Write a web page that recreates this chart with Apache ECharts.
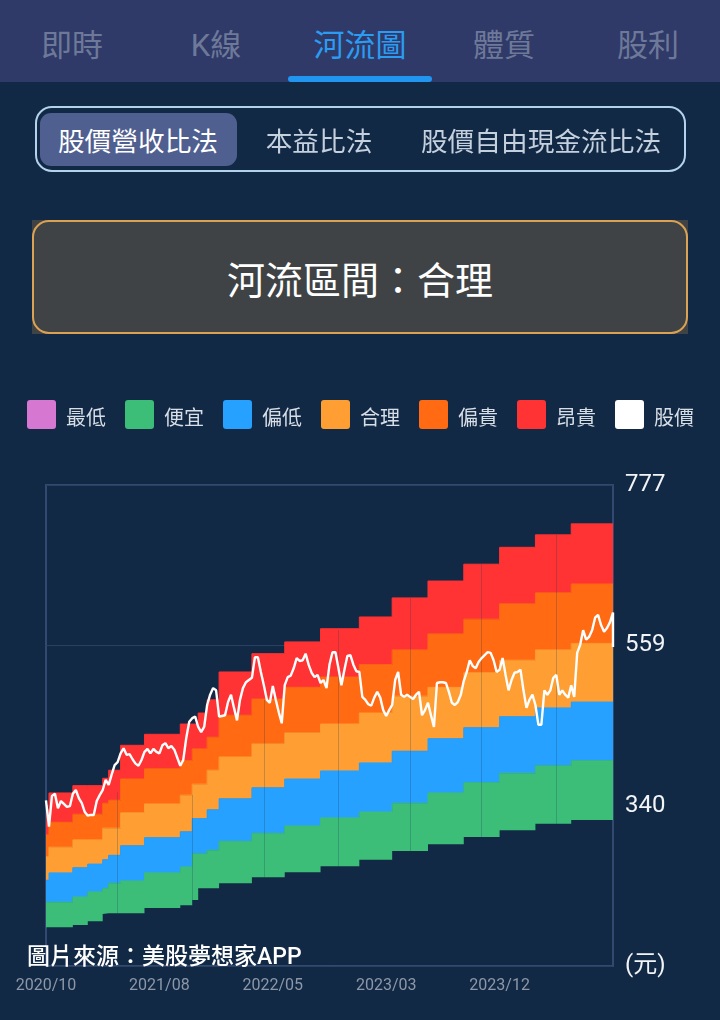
<!DOCTYPE html>
<html>
<head>
<meta charset="utf-8">
<title>河流圖</title>
<script src="https://cdn.jsdelivr.net/npm/echarts@6/dist/echarts.min.js"></script>
<style>
    html, body { margin: 0; padding: 0; background: #122945; }
    body { width: 720px; height: 1020px; position: relative; overflow: hidden; font-family: Roboto, "Noto Sans CJK TC", sans-serif; }
    #chart { position: absolute; left: 0; top: 0; width: 720px; height: 1020px; }
    .box { position: absolute; box-sizing: border-box; }
    .label { position: absolute; transform: translate(-50%, -50%); white-space: nowrap; }
    #tabBar { left: 0; top: 0; width: 720px; height: 82px; background: #2f3a68; }
    #tabLine { left: 288px; top: 76px; width: 144px; height: 6px; border-radius: 3px; background: #2196f0; }
    .tab { font-size: 31px; top: 42px; color: #6e7999; }
    #selector { left: 35px; top: 106px; width: 651px; height: 66px; border: 2px solid #b3d2ee; border-radius: 17px; }
    #pill { left: 40px; top: 113px; width: 197px; height: 53px; border-radius: 11px; background: #4f5f90; }
    .method { font-size: 26.7px; top: 139px; color: #c5d0de; }
    #status { left: 32px; top: 220px; width: 656px; height: 114px; background: #404345; }
    #statusLine { left: 32px; top: 220px; width: 656px; height: 114px; border: 2px solid #dca254; border-radius: 17px; }
    #statusText { left: 360px; top: 277px; font-size: 38px; color: #fff; }
</style>
</head>
<body>
<div id="chart"></div>
<div class="box" id="tabBar"></div>
<div class="box" id="tabLine"></div>
<div class="label tab" style="left:72px">即時</div>
<div class="label tab" style="left:216px">K線</div>
<div class="label tab" style="left:360px;color:#2b9cf2">河流圖</div>
<div class="label tab" style="left:504px">體質</div>
<div class="label tab" style="left:648px">股利</div>
<div class="box" id="selector"></div>
<div class="box" id="pill"></div>
<div class="label method" style="left:138px;color:#fff">股價營收比法</div>
<div class="label method" style="left:319px">本益比法</div>
<div class="label method" style="left:541px">股價自由現金流比法</div>
<div class="box" id="status"></div>
<div class="box" id="statusLine"></div>
<div class="label" id="statusText">河流區間：合理</div>
<script>
// 橫軸刻度與縱軸刻度
const xTickLabels = ['2020/10', '2021/08', '2022/05', '2023/03', '2023/12'];
const yTickLabels = ['(元)', '340', '559', '777'];
const yMin = 121;
const yMax = 777;
const weekCount = 191;
const labelEvery = 38;

// 河流區間換階的週次
const bandWeeks = [0, 1, 9, 14, 19, 21, 25, 33, 45, 49, 51, 54, 58, 69, 80, 92, 105, 116, 128, 140, 152, 164, 176, 190];

// 各區間的上下緣（元）
const redTop = [334, 357, 367, 367, 377, 388, 422, 437, 451, 451, 466, 484, 522, 547, 563, 581, 597, 623, 646, 669, 692, 709, 724, 724];
const orangeTop = [300, 317, 328, 328, 343, 347, 376, 390, 401, 417, 417, 433, 463, 485, 501, 515, 532, 552, 574, 594, 615, 630, 642, 642];
const amberTop = [270, 283, 293, 293, 309, 309, 330, 342, 354, 369, 369, 388, 406, 424, 439, 451, 466, 489, 501, 521, 538, 552, 561, 561];
const blueTop = [238, 248, 255, 260, 266, 272, 285, 296, 304, 322, 322, 334, 349, 364, 376, 387, 398, 414, 431, 446, 461, 473, 481, 481];
const greenTop = [208, 208, 215, 222, 227, 234, 237, 248, 256, 274, 274, 279, 291, 302, 312, 323, 331, 343, 357, 371, 384, 394, 401, 401];
const greenBottom = [174, 174, 177, 182, 192, 193, 193, 200, 204, 211, 227, 227, 234, 242, 249, 257, 266, 278, 287, 297, 306, 315, 320, 320];

// 股價（每週一點，最後兩點同一週）
const price = [
    347, 311, 353, 356, 336, 346, 342, 338, 339, 356,
    361, 350, 343, 331, 326, 327, 327, 346, 354, 361,
    375, 368, 382, 395, 399, 411, 418, 409, 410, 403,
    397, 394, 402, 413, 417, 411, 417, 413, 411, 422,
    425, 418, 421, 416, 405, 394, 402, 432, 454, 459,
    461, 447, 440, 447, 477, 491, 500, 497, 461, 462,
    463, 481, 491, 473, 456, 484, 500, 508, 511, 514,
    542, 542, 522, 504, 484, 480, 503, 484, 467, 452,
    504, 515, 517, 527, 541, 537, 538, 547, 532, 521,
    515, 518, 507, 511, 500, 532, 549, 549, 527, 504,
    525, 544, 545, 532, 523, 522, 488, 484, 478, 476,
    487, 495, 487, 470, 462, 470, 477, 511, 522, 491,
    488, 491, 488, 485, 491, 495, 463, 470, 480, 463,
    447, 507, 508, 508, 507, 495, 480, 477, 481, 491,
    510, 522, 538, 530, 527, 536, 541, 545, 549, 548,
    538, 522, 525, 541, 518, 497, 511, 521, 522, 525,
    497, 473, 484, 491, 477, 450, 450, 497, 491, 497,
    514, 518, 491, 497, 491, 487, 504, 488, 548, 559,
    579, 566, 570, 579, 596, 600, 586, 577, 582, 590,
    603, 556
];

// 河流區塊之間的細分隔線
const dividerWeeks = [24, 49, 73, 98, 122, 146, 171];
const dividerTop = [358, 354, 484, 579, 623, 669, 709];
const dividerBottom = [193, 204, 242, 257, 278, 297, 315];

window.addEventListener('DOMContentLoaded', function() {
    initRiverChart();
});

// 由上下緣換算成堆疊用的厚度
function bandData(upper, lower) {
    return bandWeeks.map((week, i) => [week, lower ? upper[i] - lower[i] : upper[i]]);
}

function bandSeries(name, color, upper, lower) {
    return {
        name: name,
        type: 'line',
        stack: 'river',
        step: 'end',
        showSymbol: false,
        silent: true,
        data: bandData(upper, lower),
        itemStyle: { color: color },
        lineStyle: { color: color, width: 1 },
        areaStyle: { color: color, opacity: 1 }
    };
}

function initRiverChart() {
    const chartDom = document.getElementById('chart');
    const myChart = echarts.init(chartDom);
    const yInterval = (yMax - yMin) / 3;
    const weeks = Array.from({ length: weekCount }, (_, i) => String(i));

    const redSeries = bandSeries('昂貴', '#ff3333', redTop, orangeTop);
    redSeries.markLine = {
        silent: true,
        symbol: 'none',
        animation: false,
        label: { show: false },
        lineStyle: { color: 'rgba(25, 60, 90, 0.25)', width: 1, type: 'solid' },
        data: dividerWeeks.map((week, i) => [
            { coord: [week, dividerTop[i]] },
            { coord: [week, dividerBottom[i]] }
        ])
    };

    const option = {
        backgroundColor: '#122945',
        animation: false,
        textStyle: { fontFamily: 'Roboto, "Noto Sans CJK TC", sans-serif' },
        legend: {
            left: 27,
            top: 400,
            padding: 0,
            width: 700,
            icon: 'path://M3 0H26Q29 0 29 3V26Q29 29 26 29H3Q0 29 0 26V3Q0 0 3 0Z',
            itemWidth: 29,
            itemHeight: 29,
            itemGap: 19,
            selectedMode: false,
            formatter: '{t|{name}}',
            textStyle: {
                color: '#d8dee6',
                fontSize: 20,
                rich: {
                    t: { color: '#d8dee6', fontSize: 20, padding: [10, 0, 0, 5] }
                }
            },
            data: ['最低', '便宜', '偏低', '合理', '偏貴', '昂貴', '股價']
        },
        grid: {
            left: 46,
            right: 107,
            top: 485,
            bottom: 54,
            show: true,
            backgroundColor: 'transparent',
            borderColor: '#34496f',
            borderWidth: 2
        },
        xAxis: {
            type: 'category',
            data: weeks,
            boundaryGap: false,
            axisLine: { show: false },
            axisTick: { show: false },
            splitLine: { show: false },
            axisLabel: {
                color: '#8d97a8',
                fontSize: 16,
                margin: 12,
                interval: labelEvery - 1,
                showMaxLabel: false,
                formatter: (value, index) => xTickLabels[index / labelEvery] || ''
            }
        },
        yAxis: {
            type: 'value',
            position: 'right',
            min: yMin,
            max: yMax,
            interval: yInterval,
            axisLine: { show: false },
            axisTick: { show: false },
            splitLine: { show: true, lineStyle: { color: '#2b4162', width: 1 } },
            axisLabel: {
                color: '#f2f4f7',
                fontSize: 24,
                margin: 12,
                formatter: value => yTickLabels[Math.round((value - yMin) / yInterval)]
            }
        },
        graphic: [
            {
                type: 'text',
                left: 27,
                top: 947,
                z: 100,
                style: {
                    text: '圖片來源：美股夢想家APP',
                    fill: '#ffffff',
                    fontSize: 23,
                    fontWeight: 500,
                    fontFamily: 'Roboto, "Noto Sans CJK TC", sans-serif'
                }
            }
        ],
        series: [
            {
                name: '最低',
                type: 'line',
                data: [],
                itemStyle: { color: '#d678d2' }
            },
            {
                name: '底部',
                type: 'line',
                stack: 'river',
                step: 'end',
                showSymbol: false,
                silent: true,
                data: bandData(greenBottom),
                lineStyle: { width: 0 }
            },
            bandSeries('便宜', '#3cbe78', greenTop, greenBottom),
            bandSeries('偏低', '#26a1ff', blueTop, greenTop),
            bandSeries('合理', '#ff9f33', amberTop, blueTop),
            bandSeries('偏貴', '#ff6a13', orangeTop, amberTop),
            redSeries,
            {
                name: '股價',
                type: 'line',
                showSymbol: false,
                silent: true,
                z: 5,
                data: price.map((value, i) => [Math.min(i, weekCount - 1), value]),
                itemStyle: { color: '#ffffff' },
                lineStyle: { color: '#ffffff', width: 2.4 }
            }
        ]
    };

    myChart.setOption(option);
}
</script>
</body>
</html>
